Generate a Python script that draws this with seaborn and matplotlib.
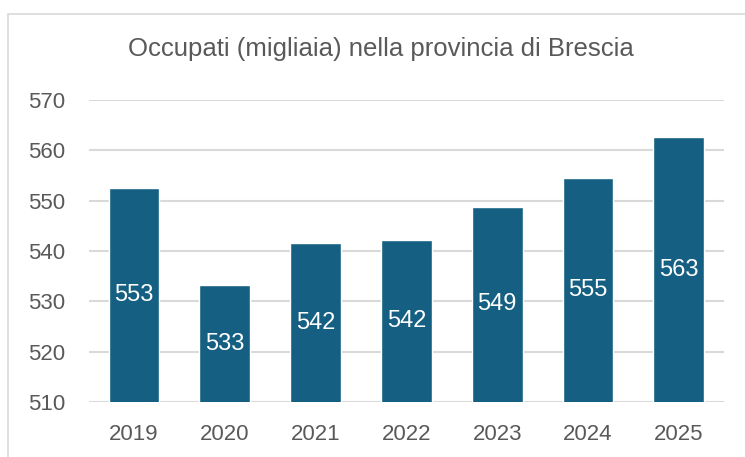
"""Occupati nella provincia di Brescia, 2019-2025."""

import matplotlib.pyplot as plt
import pandas as pd
import seaborn as sns
from matplotlib.patches import Rectangle

years = ["2019", "2020", "2021", "2022", "2023", "2024", "2025"]
occupati = [552.6, 533.2, 541.6, 542.2, 548.8, 554.6, 562.6]
y_ticks = [510, 520, 530, 540, 550, 560, 570]

BAR_COLOR = "#156082"
TEXT_COLOR = "#595959"
GRID_COLOR = "#d9d9d9"

sns.set_style("white")
plt.rcParams["font.family"] = ["Liberation Sans", "DejaVu Sans"]

df = pd.DataFrame({"anno": years, "occupati": occupati})

fig = plt.figure(figsize=(7.45, 4.57), dpi=100)
ax = fig.add_axes([0.119, 0.120, 0.853, 0.661])

sns.barplot(data=df, x="anno", y="occupati", color=BAR_COLOR, width=0.56,
            saturation=1, ax=ax, zorder=3)

ax.set_ylim(510, 570)
ax.set_yticks(y_ticks)
ax.set_xlabel("")
ax.set_ylabel("")
ax.grid(axis="y", color=GRID_COLOR, linewidth=1.5, zorder=0)
ax.set_axisbelow(True)
for side in ["top", "right", "left", "bottom"]:
    ax.spines[side].set_visible(False)
ax.tick_params(axis="both", length=0, labelsize=16, labelcolor=TEXT_COLOR)
ax.tick_params(axis="x", pad=16)
ax.tick_params(axis="y", pad=17)

# value labels in the middle of each bar
for patch, val in zip(ax.patches, occupati):
    x = patch.get_x() + patch.get_width() / 2
    y = (510 + val) / 2
    ax.text(x, y, f"{val:.0f}", ha="center", va="center", color="white",
            fontsize=17, zorder=4)

fig.text(0.511, 0.893, "Occupati (migliaia) nella provincia di Brescia",
         ha="center", va="center", fontsize=18.5, color=TEXT_COLOR)

# chart-area frame, running off the right and bottom edges
fig.patches.append(Rectangle((8 / 745, -0.05), 1.0, 1 - 14 / 457 + 0.05,
                             transform=fig.transFigure, fill=False,
                             edgecolor=GRID_COLOR, linewidth=1.2))

fig.savefig("out.png", dpi=100)
